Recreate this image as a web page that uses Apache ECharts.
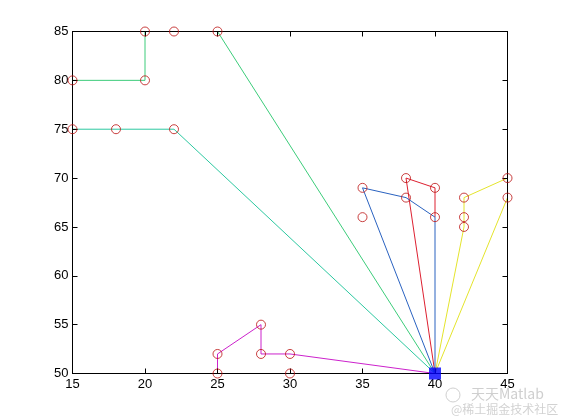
<!DOCTYPE html>
<html><head><meta charset="utf-8">
<script src="https://cdn.jsdelivr.net/npm/echarts@6/dist/echarts.min.js"></script>
<style>html,body{margin:0;padding:0;background:#fff}#c{width:561px;height:420px}</style>
</head><body><div id="c"></div>
<script>
var xTicks = [15, 20, 25, 30, 35, 40, 45];
var yTicks = [50, 55, 60, 65, 70, 75, 80, 85];
var depot = [40, 50];
var customersX = [15, 20, 20, 22, 25, 15, 18, 22, 35, 35, 38, 38, 40, 40, 42, 42, 42, 45, 45, 25, 25, 28, 28, 30, 30];
var customersY = [80, 80, 85, 85, 85, 75, 75, 75, 69, 66, 70, 68, 69, 66, 68, 66, 65, 70, 68, 52, 50, 55, 52, 52, 50];
var routeGreenA = [[40,50],[25,85],[22,85],[20,85],[20,80],[15,80],[15,75]];
var routeGreenB = [[15,75],[18,75],[22,75],[40,50]];
var routeRed = [[40,50],[38,70],[40,69],[40,66]];
var routeBlue = [[40,50],[40,66],[38,68],[35,69],[40,50]];
var routeYellow = [[40,50],[42,65],[42,66],[42,68],[45,70],[45,68],[40,50]];
var routeMagenta = [[40,50],[30,52],[28,52],[28,55],[25,52],[25,50],[30,50],[40,50]];

var chart = echarts.init(document.getElementById('c'), null, {renderer:'canvas'});
function lineS(data, color){
  return {type:'line', data:data, symbol:'none', lineStyle:{color:color, width:1}, itemStyle:{color:color}, silent:true, z:2, animation:false};
}
var cust = customersX.map(function(x,i){return [x, customersY[i]];});
var axisFont = {fontFamily:'Liberation Sans, Arial, sans-serif', fontSize:13, color:'#000'};
function ax(pos, min, max, labels){
  return {type:'value', min:min, max:max, interval:5, position:pos, z:10,
    axisLine:{show:true, onZero:false, lineStyle:{color:'#000', width:1}},
    axisTick:{show:true, inside:true, length:5, lineStyle:{color:'#000'}},
    axisLabel: labels ? Object.assign({margin:4}, axisFont) : {show:false},
    splitLine:{show:false}};
}
chart.setOption({
  animation:false,
  backgroundColor:'#fff',
  grid:{left:72.5, right:53.5, top:31.5, bottom:46.5, containLabel:false},
  xAxis:[ax('bottom', xTicks[0], xTicks[xTicks.length-1], true), ax('top', xTicks[0], xTicks[xTicks.length-1], false)],
  yAxis:[ax('left', yTicks[0], yTicks[yTicks.length-1], true), ax('right', yTicks[0], yTicks[yTicks.length-1], false)],
  series:[
    lineS(routeGreenA, '#3ccc7a'),
    lineS(routeGreenB, '#2cc8a0'),
    lineS(routeRed, '#dd2030'),
    lineS(routeBlue, '#2a62c0'),
    lineS(routeYellow, '#e4e42c'),
    lineS(routeMagenta, '#cc22cc'),
    {type:'scatter', data:cust, symbol:'circle', symbolSize:9, silent:true, z:12,
     itemStyle:{color:'rgba(0,0,0,0)', borderColor:'#bb1111', borderWidth:1}},
    {type:'scatter', data:[depot], symbol:'rect', symbolSize:12, silent:true, z:13,
     itemStyle:{color:'#0000ff'}}
  ],
  graphic:[
    {type:'circle', shape:{cx:453, cy:395, r:7}, style:{fill:'none', stroke:'#d0d0d0', lineWidth:1}},
    {type:'text', left:471, top:387, style:{text:'天天Matlab', font:'14px "Noto Sans CJK SC", sans-serif', fill:'#cfcfcf'}},
    {type:'text', left:451, top:403, style:{text:'@稀土掘金技术社区', font:'12px "Noto Sans CJK SC", sans-serif', fill:'#d2d2d2'}}
  ]
});
</script></body></html>
